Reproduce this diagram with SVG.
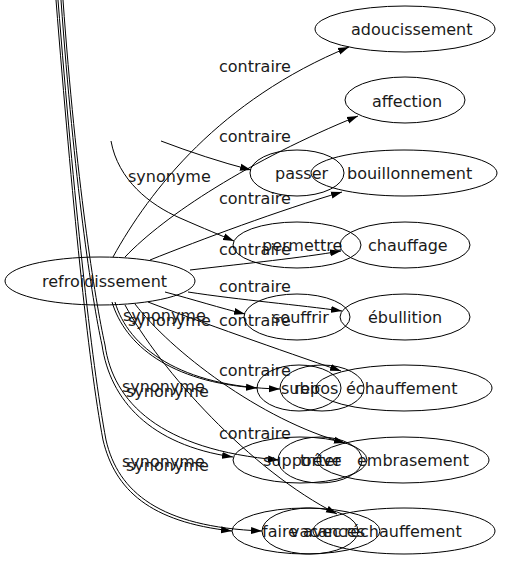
<svg xmlns="http://www.w3.org/2000/svg" width="506" height="563" viewBox="0 0 506 563">
<defs>
<marker id="ah" markerUnits="userSpaceOnUse" markerWidth="12" markerHeight="8" refX="11" refY="4" orient="auto">
<path d="M0,0.5 L11,4 L0,7.5 z" fill="#000"/>
</marker>
<style>
.n ellipse{fill:none;stroke:#000;stroke-width:1}
.e path{fill:none;stroke:#000;stroke-width:1;marker-end:url(#ah)}
text{font-family:"DejaVu Sans",sans-serif;font-size:16px;fill:#1a1a1a}
</style>
</defs>
<rect width="506" height="563" fill="#fff"/>
<g id="connectors" class="e">
<path d="M113,257 C150,190 220,100 349,47"/>
<path d="M125,257 C165,215 250,160 358,116"/>
<path d="M150,260 C200,240 280,210 342,192"/>
<path d="M190,270 C250,263 300,258 341,251"/>
<path d="M188,292 C240,300 300,305 342,311"/>
<path d="M148,302 C200,322 280,350 341,371"/>
<path d="M135,304 C170,350 260,420 345,443"/>
<path d="M125,305 C160,370 250,470 337,514"/>
<path d="M161,141 C190,152 220,162 251,170"/>
<path d="M111,141 C118,180 150,205 180,218 C205,229 220,235 234,241"/>
<path d="M165,292 C195,300 220,308 245,314"/>
<path d="M112,302 C125,345 170,382 257,388"/>
<path d="M115,302 C128,347 180,387 280,389"/>
<path d="M61,0 C74,180 92,300 102,345 C110,400 150,445 233,457"/>
<path d="M63,0 C76,180 95,300 105,345 C113,402 160,450 279,460"/>
<path d="M56,0 C72,200 88,360 103,440 C115,490 150,522 232,531"/>
<path d="M58,0 C74,200 91,360 106,440 C118,492 160,527 262,531"/>
<text x="219" y="72">contraire</text>
<text x="219" y="142">contraire</text>
<text x="219" y="204">contraire</text>
<text x="219" y="255">contraire</text>
<text x="219" y="292">contraire</text>
<text x="219" y="326">contraire</text>
<text x="219" y="376">contraire</text>
<text x="219" y="439">contraire</text>
<text x="128" y="182">synonyme</text>
<text x="123" y="321">synonyme</text>
<text x="128" y="326">synonyme</text>
<text x="122" y="392">synonyme</text>
<text x="126" y="397">synonyme</text>
<text x="122" y="467">synonyme</text>
<text x="126" y="471">synonyme</text>
</g>
<g id="refroidissement" class="n"><ellipse cx="100" cy="281" rx="95" ry="24"/><text x="42" y="287">refroidissement</text></g>
<g id="adoucissement" class="n"><ellipse cx="405" cy="29" rx="90" ry="23"/><text x="351" y="35">adoucissement</text></g>
<g id="affection" class="n"><ellipse cx="405" cy="100" rx="60" ry="23"/><text x="372" y="107">affection</text></g>
<g id="bouillonnement" class="n"><ellipse cx="404" cy="173" rx="93" ry="23"/><text x="347" y="179">bouillonnement</text></g>
<g id="passer" class="n"><ellipse cx="297" cy="173" rx="47" ry="23"/><text x="275" y="179">passer</text></g>
<g id="permettre" class="n"><ellipse cx="297" cy="245" rx="64" ry="23"/><text x="262" y="251">permettre</text></g>
<g id="chauffage" class="n"><ellipse cx="405" cy="245" rx="65" ry="23"/><text x="368" y="251">chauffage</text></g>
<g id="souffrir" class="n"><ellipse cx="297" cy="317" rx="53" ry="23"/><text x="272" y="323">souffrir</text></g>
<g id="ebullition" class="n"><ellipse cx="405" cy="317" rx="65" ry="23"/><text x="368" y="323">ébullition</text></g>
<g id="subir" class="n"><ellipse cx="299" cy="388" rx="42" ry="23"/><text x="281" y="394">subir</text></g>
<g id="repos" class="n"><ellipse cx="322" cy="388" rx="42" ry="23"/><text x="294" y="394">repos</text></g>
<g id="echauffement" class="n"><ellipse cx="404" cy="388" rx="88" ry="23"/><text x="346" y="394">échauffement</text></g>
<g id="supporter" class="n"><ellipse cx="300" cy="460" rx="67" ry="23"/><text x="263" y="466">supporter</text></g>
<g id="treve" class="n"><ellipse cx="320" cy="460" rx="42" ry="23"/><text x="300" y="466">trêve</text></g>
<g id="embrasement" class="n"><ellipse cx="403" cy="460" rx="86" ry="23"/><text x="357" y="466">embrasement</text></g>
<g id="faire-avec" class="n"><ellipse cx="306" cy="531" rx="74" ry="23"/><text x="262" y="537">faire avec</text></g>
<g id="vacances" class="n"><ellipse cx="310" cy="531" rx="48" ry="23"/><text x="290" y="537">vacances</text></g>
<g id="rechauffement" class="n"><ellipse cx="404" cy="531" rx="91" ry="23"/><text x="344" y="537">réchauffement</text></g>
</svg>
